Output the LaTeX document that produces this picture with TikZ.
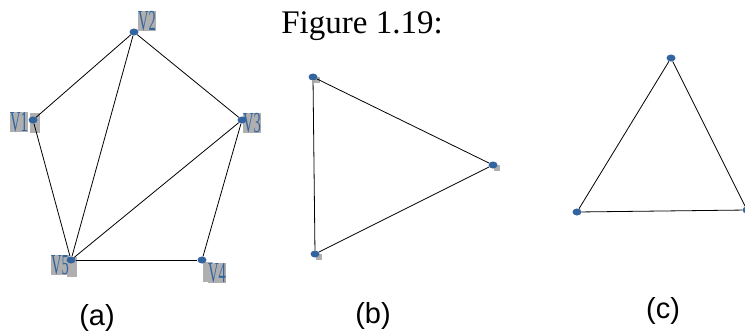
\documentclass[tikz,border=0pt]{standalone}
\usepackage{fontspec}
\setmainfont{Liberation Serif}
\setsansfont{Liberation Sans}
\usetikzlibrary{shapes.geometric}
\definecolor{dotblue}{RGB}{50,100,160}
\definecolor{lblgray}{RGB}{175,175,175}
\tikzset{
  vdot/.style={ellipse, fill=dotblue, inner sep=0pt, minimum width=9pt, minimum height=7pt},
  vshadow/.style={fill=lblgray, inner sep=0pt, minimum size=6pt},
  vbox/.style={fill=lblgray, inner sep=0pt, minimum width=10pt, minimum height=20pt},
  edge/.style={draw=black, line width=0.8pt},
  vlabel/.style={fill=lblgray, text=dotblue, inner xsep=1pt, inner ysep=0pt, font=\fontsize{29}{29}\selectfont, xscale=0.5},
  captext/.style={font=\sffamily\fontsize{29}{29}\selectfont}
}
\begin{document}
\begin{tikzpicture}[x=1pt,y=-1pt]
\useasboundingbox (0,0) rectangle (745,335);
\node[font=\fontsize{33}{33}\selectfont, anchor=base, inner sep=0pt] (title) at (362,33) {Figure 1.19:};
% (a)
\node[vbox] (g1) at (35,123) {};
\node[vbox] (g5) at (72,267) {};
\node[vbox] (g4) at (208,272) {};
\node[vlabel] (l2) at (147,21) {V2};
\node[vlabel] (l1) at (19,122) {V1};
\node[vlabel] (l3) at (252,123) {V3};
\node[vlabel] (l5) at (60,265) {V5};
\node[vlabel] (l4) at (217,273) {V4};
\node[vdot] (v2) at (134,32) {};
\node[vdot] (v1) at (33,120) {};
\node[vdot] (v3) at (242,120) {};
\node[vdot] (v5) at (71,260) {};
\node[vdot] (v4) at (202,260) {};
\draw[edge] (v1) -- (v2);
\draw[edge] (v2) -- (v3);
\draw[edge] (v2) -- (v5);
\draw[edge] (v1) -- (v5);
\draw[edge] (v3) -- (v5);
\draw[edge] (v3) -- (v4);
\draw[edge] (v5) -- (v4);
\node[captext] (ca) at (97,318) {(a)};
% (b)
\node[vshadow] (sb1) at (317,80) {};
\node[vshadow] (sb2) at (497,168) {};
\node[vshadow] (sb3) at (319,257) {};
\node[vdot] (b1) at (313,77) {};
\node[vdot] (b2) at (493,165) {};
\node[vdot] (b3) at (315,254) {};
\draw[edge] (b1) -- (b2);
\draw[edge] (b2) -- (b3);
\draw[edge] (b1) -- (b3);
\node[captext] (cb) at (373,316) {(b)};
% (c)
\node[vdot] (c1) at (671,58) {};
\node[vdot] (c2) at (577,212) {};
\node[vdot] (c3) at (747,210) {};
\draw[edge] (c1) -- (c2);
\draw[edge] (c1) -- (c3);
\draw[edge] (c2) -- (c3);
\node[captext] (cc) at (663,311) {(c)};
\end{tikzpicture}
\end{document}
